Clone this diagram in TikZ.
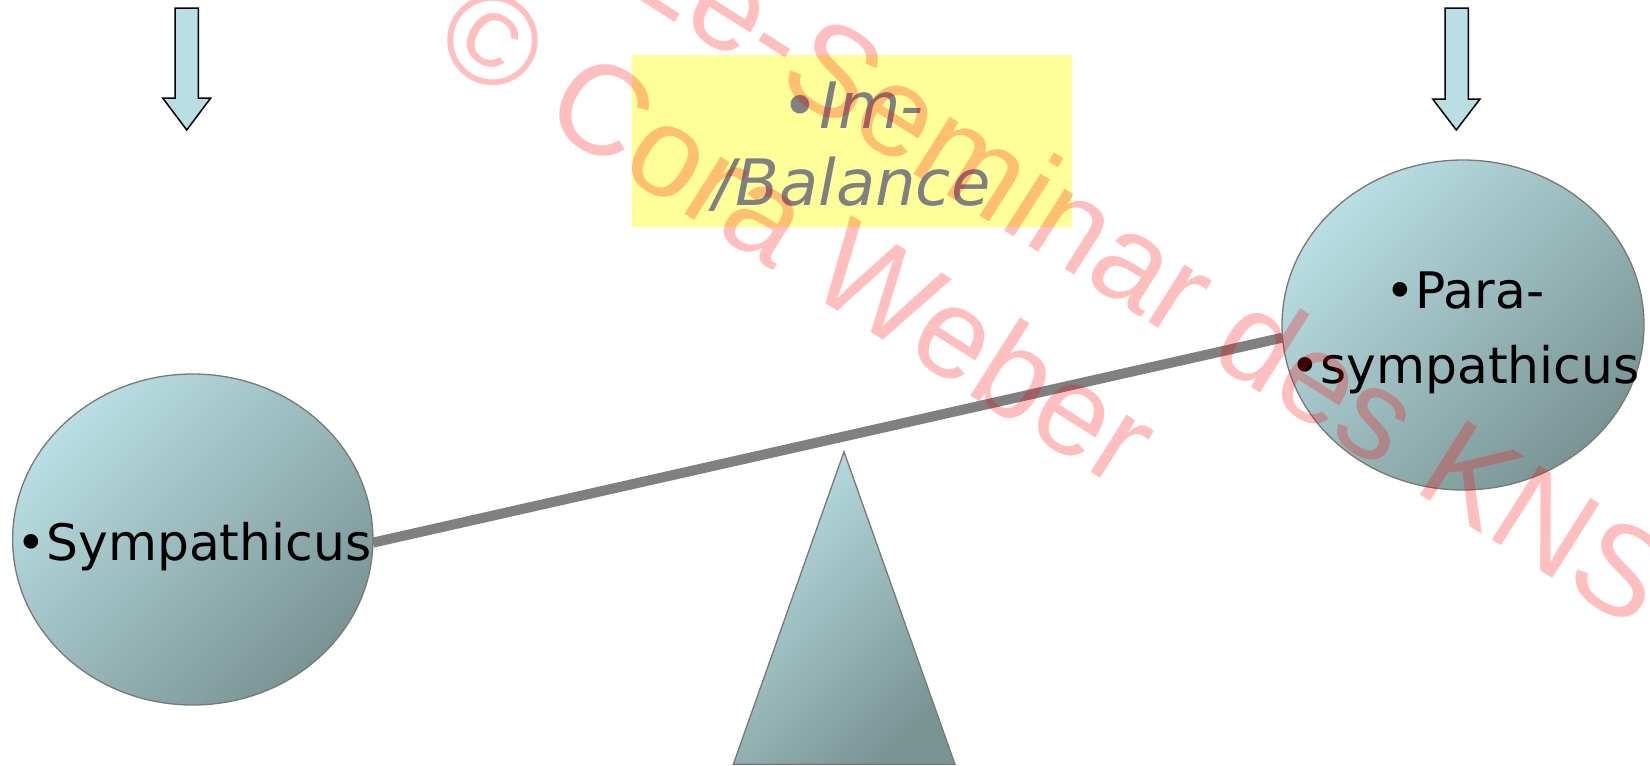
\documentclass[tikz,border=0pt]{standalone}
\usepackage{fontspec}
\setmainfont{DejaVu Sans}
\newfontfamily\wmfont{Liberation Sans}
\usetikzlibrary{shapes.geometric}
\pgfdeclarelayer{beamlayer}
\pgfsetlayers{beamlayer,main}
\definecolor{tealA}{RGB}{185,222,227}
\definecolor{tealB}{RGB}{122,148,148}
\definecolor{arrowfill}{RGB}{185,223,228}
\definecolor{edgegray}{RGB}{120,120,120}
\definecolor{beamgray}{RGB}{128,128,128}
\definecolor{boxyellow}{RGB}{255,255,153}
\definecolor{imgray}{RGB}{128,128,128}
\tikzset{
  bubble/.style={ellipse, draw=edgegray, line width=1.3, top color=tealA, bottom color=tealB,
    shading angle=45, inner sep=0, outer sep=0},
  bubbletext/.style={font=\fontsize{50.3}{60}\selectfont, text=black, inner sep=0, anchor=base},
  imtext/.style={font=\fontsize{64}{75}\selectfont\itshape, text=imgray, inner sep=0, anchor=base},
  wmark/.style={font=\wmfont\fontsize{128}{150}\selectfont, text=red, text opacity=0.25, inner sep=0,
    anchor=base west, rotate=-32.4},
  downarrow/.style={draw=black, line width=1.5, fill=arrowfill, line join=miter},
  fulcrum/.style={draw=edgegray, line width=1.3, top color=tealA, bottom color=tealB, shading angle=45},
  beam/.style={draw=beamgray, line width=10}
}
\begin{document}
\begin{tikzpicture}[x=1pt,y=-1pt]
\useasboundingbox (0,0) rectangle (1650,766);
\clip (0,0) rectangle (1650,766);
% arrows
\draw[downarrow] (175,8) -- (198.3,8) -- (198.3,98) -- (210.7,98) -- (186.7,130) -- (162.7,98) -- (175,98) -- cycle;
\draw[downarrow] (1445,8) -- (1468.3,8) -- (1468.3,99) -- (1480,99) -- (1456.3,130) -- (1432.7,99) -- (1445,99) -- cycle;
% yellow box
\node[fill=boxyellow, minimum width=440, minimum height=172.3, inner sep=0, outer sep=0, anchor=north west] (imbox) at (631.7,55) {};
\node[imtext] (im1) at (853,128.3) {•Im-};
\node[imtext] (im2) at (852,205) {/Balance};
% fulcrum
\path[fulcrum] (844,451.7) -- (955,764.3) -- (733.3,764.3) -- cycle;
% ellipses
\node[bubble, minimum width=360.3, minimum height=331] (L) at (192.8,539.5) {};
\node[bubble, minimum width=362, minimum height=330] (R) at (1463,325) {};
\begin{pgfonlayer}{beamlayer}
\draw[beam] (L.-1.3) -- (R.184);
\end{pgfonlayer}
\node[bubbletext] (symp) at (194,560) {•Sympathicus};
\node[bubbletext] (para1) at (1465,308.3) {•Para-};
\node[bubbletext] (para2) at (1465,383.3) {•sympathicus};
% watermark
\node[wmark] (wm1) at (618.5,-14.0) {Le-Seminar des KNS};
\node[wmark] (wm2) at (429.3,52.0) {© Cora Weber};
\end{tikzpicture}
\end{document}
